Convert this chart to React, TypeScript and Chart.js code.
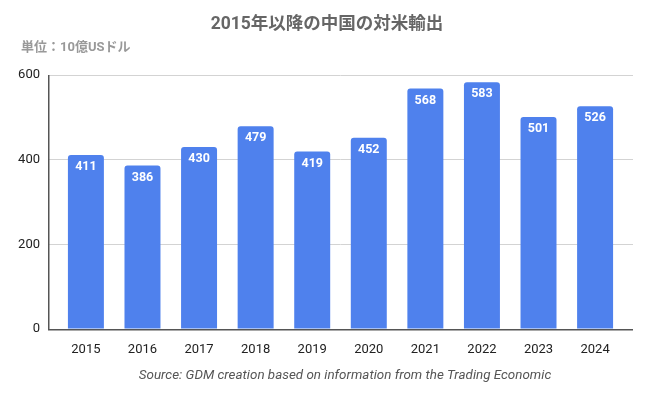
import React, { useEffect, useRef } from "react";
import { Chart, registerables } from "chart.js";

Chart.register(...registerables);

const years = ["2015", "2016", "2017", "2018", "2019", "2020", "2021", "2022", "2023", "2024"];
const exportsToUS = [411, 386, 430, 479, 419, 452, 568, 583, 501, 526];
const yTicks = [0, 200, 400, 600];
const titleText = "2015年以降の中国の対米輸出";
const subtitleText = "単位：10億USドル";
const sourceText = "Source: GDM creation based on information from the Trading Economic";

const FONT = "Roboto, 'Noto Sans CJK JP', sans-serif";

export default function App() {
  const ref = useRef<HTMLCanvasElement>(null);
  useEffect(() => {
    document.body.style.margin = "0";
    const canvas = ref.current!;
    const axisPlugin = {
      id: "axisLines",
      beforeDatasetsDraw(chart: any) {
        const ctx = chart.ctx;
        const a = chart.chartArea;
        const l = Math.round(a.left);
        const t = Math.round(a.top);
        const b = Math.round(a.bottom);
        const r = Math.round(a.right);
        ctx.save();
        ctx.globalAlpha = 1;
        ctx.fillStyle = "#555555";
        ctx.fillRect(l, t, 1.5, b - t + 1);
        ctx.fillRect(l, b, r - l, 1.5);
        ctx.restore();
      },
    };
    const overlayPlugin = {
      id: "overlay",
      afterDatasetsDraw(chart: any) {
        const ctx = chart.ctx;
        ctx.save();
        const meta = chart.getDatasetMeta(0);
        ctx.fillStyle = "#ffffff";
        ctx.font = `bold 12.5px ${FONT}`;
        ctx.textAlign = "center";
        ctx.textBaseline = "middle";
        meta.data.forEach((el: any, i: number) => {
          ctx.fillText(String(exportsToUS[i]), el.x, el.y + 12);
        });

        ctx.textAlign = "center";
        ctx.fillStyle = "#666666";
        ctx.font = `bold 17.5px ${FONT}`;
        ctx.fillText(titleText, 327, 25);
        ctx.textAlign = "left";
        ctx.fillStyle = "#999999";
        ctx.font = `bold 13px ${FONT}`;
        ctx.fillText(subtitleText, 21, 48);
        ctx.textAlign = "center";
        ctx.fillStyle = "#555555";
        ctx.font = `italic 13.4px ${FONT}`;
        ctx.fillText(sourceText, 345, 376);
        ctx.restore();
      },
    };
    const chart = new Chart(canvas, {
      type: "bar",
      data: {
        datasets: [
          {
            data: exportsToUS.map((v, i) => ({ x: i, y: v })),
            backgroundColor: "#4f81ed",
            borderRadius: { topLeft: 3, topRight: 3, bottomLeft: 0, bottomRight: 0 },
            borderSkipped: "bottom",
            barPercentage: 0.636,
            categoryPercentage: 1,
          },
        ],
      },
      options: {
        animation: false,
        responsive: false,
        maintainAspectRatio: false,
        layout: { padding: { left: 0, right: 15, top: 75, bottom: 38 } },
        plugins: { legend: { display: false }, tooltip: { enabled: false } },
        scales: {
          x: {
            type: "linear",
            offset: false,
            min: -0.67,
            max: 9.67,
            afterBuildTicks(scale: any) {
              scale.ticks = years.map((_, i) => ({ value: i }));
            },
            afterFit(scale: any) {
              scale.height = 30;
            },
            ticks: {
              autoSkip: false,
              maxRotation: 0,
              padding: 5,
              color: "#222222",
              font: { family: FONT, size: 13 },
              callback: (v: any) => years[v] ?? "",
            },
            grid: { display: false },
            border: { display: false },
          },
          y: {
            min: 0,
            max: 600,
            afterBuildTicks(scale: any) {
              scale.ticks = yTicks.map((v) => ({ value: v }));
            },
            afterFit(scale: any) {
              scale.width = 48;
            },
            ticks: {
              padding: 8,
              color: "#222222",
              font: { family: FONT, size: 13 },
            },
            grid: { color: "#d3d3d3", drawTicks: false },
            border: { display: false },
          },
        },
      },
      plugins: [axisPlugin, overlayPlugin],
    } as any);
    return () => chart.destroy();
  }, []);
  return <canvas ref={ref} width={648} height={397} style={{ display: "block" }} />;
}
